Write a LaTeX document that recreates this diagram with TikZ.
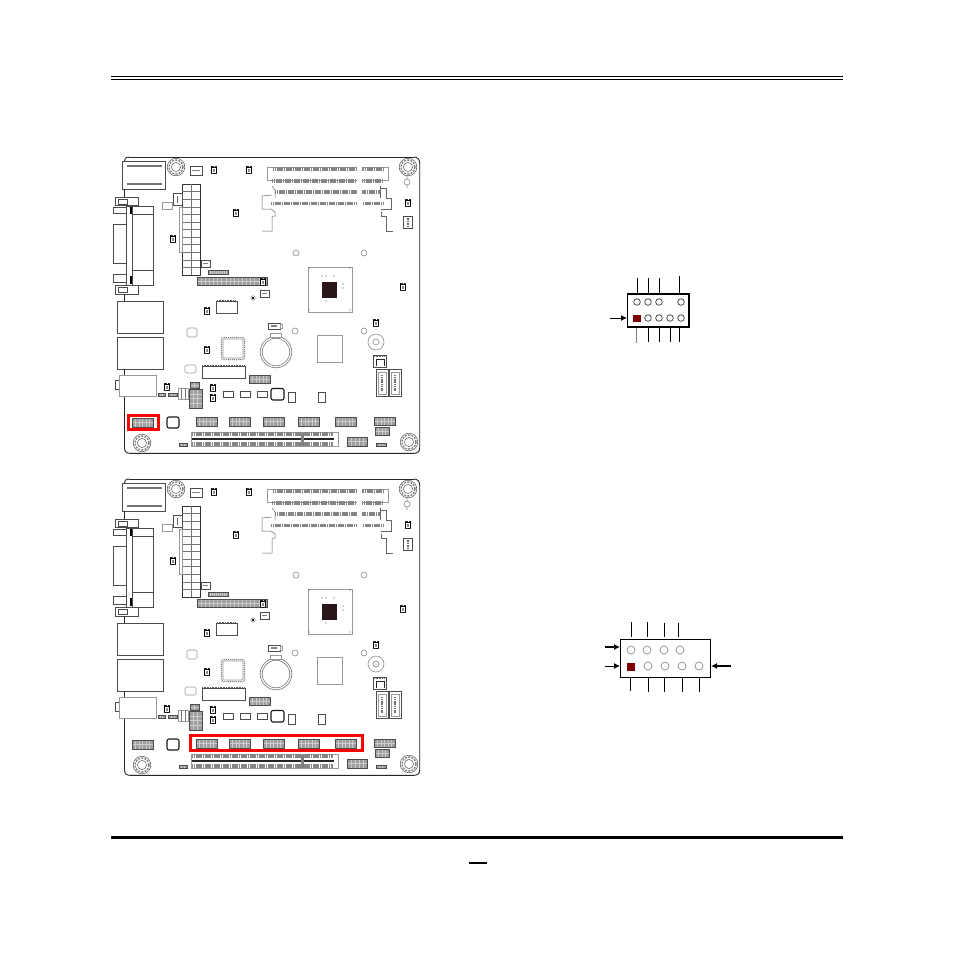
\documentclass[tikz,border=0pt]{standalone}
\usetikzlibrary{arrows.meta}
\definecolor{pinred}{HTML}{7F0000}
\definecolor{cpu}{HTML}{2A1518}
\tikzset{
  part/.style={draw=black!70,line width=.55pt,fill=white},
  thin part/.style={draw=black!40,line width=.6pt,fill=white},
  redframe/.style={draw=red,line width=3pt},
  pinline/.style={draw=black,line width=.95pt},
  pinbox/.style={draw=black,line width=1.4pt},
  pinhole/.style={draw=black!70,line width=.8pt},
  pinholegray/.style={draw=black!45,line width=.7pt},
  arrowline/.style={draw=black,line width=1pt,-{Latex[length=6pt,width=6pt]}},
  combstyle/.style={draw=black!48,dash pattern=on 1.3pt off .5pt},
}
\newcommand\hdr[6]{%
  \fill[black!38] (#1,#2) rectangle (#3,#4);
  \foreach \i in {1,...,#5}{\pgfmathsetmacro\xx{#1+(#3-#1)*\i/#5}\draw[white!80!black,line width=.45pt] (\xx,#2)--(\xx,#4);}
  \foreach \i in {1,...,#6}{\pgfmathsetmacro\yy{#2+(#4-#2)*\i/#6}\draw[white!80!black,line width=.45pt] (#1,\yy)--(#3,\yy);}
  \draw[black!70,line width=.5pt] (#1,#2) rectangle (#3,#4);
}
\newcommand\chipc[2]{%
  \draw[black,line width=.6pt,fill=white] (#1-2.6,#2-3) rectangle (#1+2.6,#2+3);
  \draw[black!85,line width=1.2pt,dash pattern=on .9pt off .5pt] (#1-3.4,#2-3.4)--(#1+3.4,#2-3.4) (#1-3.4,#2+3.4)--(#1+3.4,#2+3.4);
  \fill[black!45] (#1-1.3,#2-1.5) rectangle (#1+1.3,#2+1.5);
}
\newcommand\bx[4]{\draw[part] (#1,#2) rectangle (#3,#4);}
\newcommand\gbx[4]{\draw[thin part] (#1,#2) rectangle (#3,#4);}
\newcommand\holeS[2]{\draw[black!45,line width=.6pt] (#1,#2) circle (3);}
\newcommand\mount[2]{%
  \draw[black!60,line width=.6pt] (#1,#2) circle (8.8);
  \draw[black!50,line width=1.4pt,dash pattern=on 2pt off 1.2pt] (#1,#2) circle (7);
  \draw[black!55,line width=.6pt] (#1,#2) circle (4.6);
}
\newcommand\PCB{%
  % outline
  \draw[black!85,line width=.9pt] (129,157) -- (414,157);
  \draw[black!85,line width=.9pt] (124.5,396) -- (124.5,448) .. controls (124.5,451.5) and (126.5,453.3) .. (130,453.3) -- (414,453.3) .. controls (417.5,453.3) and (419.7,451.5) .. (419.7,448) -- (419.7,163) .. controls (419.7,159.5) and (417.5,157) .. (414,157);
  \draw[black!85,line width=.9pt] (124.5,161) .. controls (124.5,159) and (125.5,157) .. (129,157);
  % rear IO
  \bx{122.7}{161}{165}{189}
  \draw[black!55,line width=1.4pt] (127,166)--(162,166) (127,184)--(162,184);
  \bx{115}{197}{138}{205} \bx{115}{285}{138}{294}
  \draw[part] (118,199) rectangle (127,204); \draw[part] (118,287) rectangle (127,292);
  \bx{113}{224}{126}{263}
  \bx{113}{207}{127}{213} \bx{113}{274}{127}{282}
  \bx{126}{206}{153}{285}
  \draw[black!70,line width=.5pt] (132,206)--(132,285) (133,214)--(153,214) (133,270)--(153,270);
  \draw[black,line width=1.6pt] (131,207)--(131,214) (131,276)--(131,284);
  \bx{117}{301}{163}{333} \bx{117}{337}{163}{369}
  \bx{115}{380}{119}{389} \gbx{119}{375}{156}{396}
  \draw[black!85,line width=.9pt] (124.5,189)--(124.5,197) (124.5,294)--(124.5,301) (124.5,369)--(124.5,375);
  \mount{176}{167}
  \bx{190}{166}{202}{175} \draw[black!50,line width=1.5pt] (192,170.5)--(200,170.5);
  \chipc{214}{170} \chipc{249}{170}
  % ATX
  \draw[black!80,line width=.7pt] (182,184) rectangle (200,275);
  \draw[black!55,line width=.4pt] (191,184)--(191,275);
  \foreach \i in {1,...,11}{\pgfmathsetmacro\yy{184+\i*7.58}\draw[black!55,line width=.4pt] (182,\yy)--(200,\yy);}
  \gbx{179}{207}{182}{252}
  \bx{173}{193}{182}{205} \draw[black!60,line width=1pt] (177.5,196)--(177.5,203);
  \gbx{162}{202}{172}{209}
  \chipc{236}{213} \chipc{173}{239}
  \bx{201}{260}{210}{267} \draw[black!50,line width=1.2pt] (203,263.5)--(208,263.5);
  \hdr{208}{270}{228}{274}{10}{1}
  \hdr{197}{277}{267}{285}{17}{2}
  \fill[black] (253,298) circle (1.3); \draw[black!50,line width=.4pt] (253,298) circle (2.3);
  \bx{260}{290}{269}{297} \draw[black!50,line width=1.2pt] (262,293.5)--(267,293.5);
  \draw[part] (216,301) rectangle (237,313);
  \draw[black!65,line width=1pt,dash pattern=on 1pt off .6pt] (217,300.5)--(236,300.5) (217,313.5)--(236,313.5);
  \chipc{207}{311} \chipc{207}{350} \chipc{403}{287} \chipc{408}{203} \chipc{376}{323}
  \chipc{263}{282}
  \draw[thin part,rounded corners=1.5pt] (187,328) rectangle (197,337);
  \draw[thin part,rounded corners=1.5pt] (185,365) rectangle (196,373);
  \draw[thin part,rounded corners=2pt] (223,339) rectangle (243,358);
  \draw[black!50,line width=1.2pt,dash pattern=on 1.2pt off .9pt,rounded corners=2pt] (221.5,337.5) rectangle (244.5,359.5);
  \draw[part] (202,366) rectangle (245,378);
  \draw[black!65,line width=1.2pt,dash pattern=on 1pt off .6pt] (202,365.5)--(245,365.5);
  % battery
  \draw[black!55,line width=.6pt] (276,352) circle (15.8);
  \draw[black!55,line width=.6pt] (276,352) circle (13.8);
  \gbx{270}{333}{281}{337}
  \bx{268}{323}{280}{329} \draw[black!50,line width=1.3pt] (271,326)--(277,326);
  \gbx{280}{324}{282}{328}
  \hdr{249}{375}{270}{383}{6}{2}
  \chipc{213}{388} \chipc{213}{398}
  \bx{223}{391}{233}{397} \bx{240}{391}{250}{397} \bx{257}{391}{267}{397}
  \draw[black!90,line width=1.1pt,fill=white,rounded corners=2pt] (271,388.5) rectangle (284,400);
  \bx{288}{392}{295}{402} \bx{318}{392}{325}{402}
  % header cluster
  \hdr{190}{382}{199}{388}{2}{2}
  \hdr{189}{389}{202}{408}{3}{4}
  \gbx{178}{388}{188}{399} \draw[black!55,line width=.6pt] (181.5,388)--(181.5,399) (185,388)--(185,399);
  \chipc{167}{387}
  \hdr{158}{393}{165}{396}{3}{1} \hdr{168}{393}{177}{396}{3}{1}
  % rear headers row
  \hdr{132}{418}{153}{427}{6}{2}
  \draw[black!90,line width=1.1pt,fill=white,rounded corners=2pt] (167,417) rectangle (179,428);
  \hdr{196}{417}{217}{426}{6}{2}
  \hdr{229}{417}{250}{426}{6}{2}
  \hdr{263}{417}{284}{426}{6}{2}
  \hdr{298}{417}{319}{426}{6}{2}
  \hdr{335}{417}{356}{426}{6}{2}
  \hdr{374}{417}{395}{425}{6}{2}
  \hdr{375}{427}{389}{435}{4}{2}
  \hdr{376}{443}{386}{446}{3}{1}
  \hdr{347}{437}{367}{446}{5}{2}
  \hdr{179}{443}{187}{446}{3}{1}
  % PCI slot
  \gbx{191}{432}{338}{446}
  \draw[combstyle,line width=3.4pt] (192,434)--(333,434) (192,444)--(333,444);
  \draw[black!85,line width=1.4pt] (192,439)--(334,439);
  \fill[black!50] (301,433) rectangle (304,446);
  \mount{142}{443} \mount{409}{442} \mount{408}{167}
  % RAM slots
  \gbx{267}{167}{388}{180}
  \draw[combstyle,line width=3.4pt] (273,169)--(384,169) (272,181)--(382,181) (275,192)--(380,192) (271,203.5)--(383,203.5);
  \foreach \yy in {169,181,192,203.5}{\fill[white] (357,\yy-2) rectangle (362,\yy+2);}
  \draw[black!60,line width=.5pt] (272,186)--(275,190)--(275,198) (272,195)--(262,196)--(262,209)--(271,209) (271,209)--(275,212)--(275,216)--(272,216)--(272,231)--(262,231);
  \draw[black!60,line width=.5pt] (380,186)--(380,198) (380,188)--(386,188)--(386,198)--(391,198)--(391,209)--(381,209) (381,212)--(381,216)--(386,216)--(386,231)--(393,231);
  % misc
  \draw[black!45,line width=.6pt] (407,182) circle (3) (407,175)--(407,179) (407,185)--(407,188);
  \bx{403}{216}{412}{228} \draw[black!60,line width=1.5pt,dash pattern=on 1.5pt off 1pt] (408,218)--(408,226);
  \holeS{296}{253} \holeS{364}{253} \holeS{295}{331} \holeS{364}{331}
  % CPU
  \gbx{308}{267}{352}{312}
  \fill[cpu] (322,282) rectangle (337,298);
  \foreach \p in {(322,276),(326,276),(334,276),(343,284),(343,288),(326,301),(309,268),(350,268),(309,310),(350,310)}{\fill[black!70] \p circle (.7);}
  \gbx{317}{335}{342}{362}
  \draw[black!45,line width=.6pt] (376,342) circle (8) (376,342) circle (3);
  \bx{373}{355}{386}{367}
  \draw[black!85,line width=1pt] (376,366)--(376,359)--(384,359)--(384,366);
  \draw[black!60,line width=1pt,dash pattern=on 1pt off .6pt] (374,356.5)--(385,356.5);
  % SATA
  \foreach \x in {376,389}{
    \bx{\x}{369}{\x+12}{396}
    \gbx{\x+2}{372}{\x+10}{394}
    \draw[black!55,line width=2pt,dash pattern=on 1.2pt off .6pt] (\x+6,375)--(\x+6,391);
  }
}
\begin{document}
\begin{tikzpicture}[x=1pt,y=-1pt]
\useasboundingbox (0,0) rectangle (954,954);
\fill[white] (0,0) rectangle (954,954);
% page header and footer rules
\draw[black,line width=1pt] (111,76.5)--(843,76.5);
\draw[black,line width=1pt] (111,79.5)--(843,79.5);
\draw[black,line width=3pt] (111,837.5)--(843,837.5);
\fill[black] (469,862) rectangle (487,864);
% boards
\begin{scope}
\clip (105,150) rectangle (430,460);
\PCB
\draw[redframe] (128.5,415.5) rectangle (158.5,429.5);
\end{scope}
\begin{scope}[yshift=-322pt]
\clip (105,150) rectangle (430,460);
\PCB
\draw[redframe] (190,413.5) rectangle (362,428.5);
\end{scope}
% pin diagram one
\draw[pinbox] (627.5,294) rectangle (689,327);
\foreach \x in {637,648,659,681}{\draw[pinhole] (\x,302) circle (3.3);}
\foreach \x in {648,659,670,681}{\draw[pinhole] (\x,318) circle (3.3);}
\fill[pinred] (633,315) rectangle (641,322);
\foreach \x in {637,648,659}{\draw[pinline] (\x,278)--(\x,293);}
\draw[pinline] (679,276)--(679,293);
\draw[draw=black!50,line width=.95pt] (636,328)--(636,343);
\foreach \x in {648,659,670,679}{\draw[pinline] (\x,328)--(\x,342);}
\draw[arrowline] (610,318)--(627,318);
% pin diagram two
\draw[draw=black,line width=1pt] (620,639.5) rectangle (710,677);
\foreach \x in {631,647,664,680}{\draw[pinholegray] (\x,650) circle (4);}
\foreach \x in {648,665,682,699}{\draw[pinholegray] (\x,666) circle (4);}
\fill[pinred] (627,663) rectangle (635,671);
\draw[pinline] (631,622)--(631,637) (647,622)--(647,637) (664,623)--(664,637) (678,623)--(678,637);
\draw[pinline] (630,678)--(630,691) (648,678)--(648,692) (664,678)--(664,692) (682,678)--(682,692) (699,678)--(699,692);
\draw[arrowline,line width=1.5pt] (605,647)--(620,647);
\draw[arrowline] (605,666)--(620,666);
\draw[arrowline,line width=1.3pt] (731,666)--(711,666);
\end{tikzpicture}
\end{document}
